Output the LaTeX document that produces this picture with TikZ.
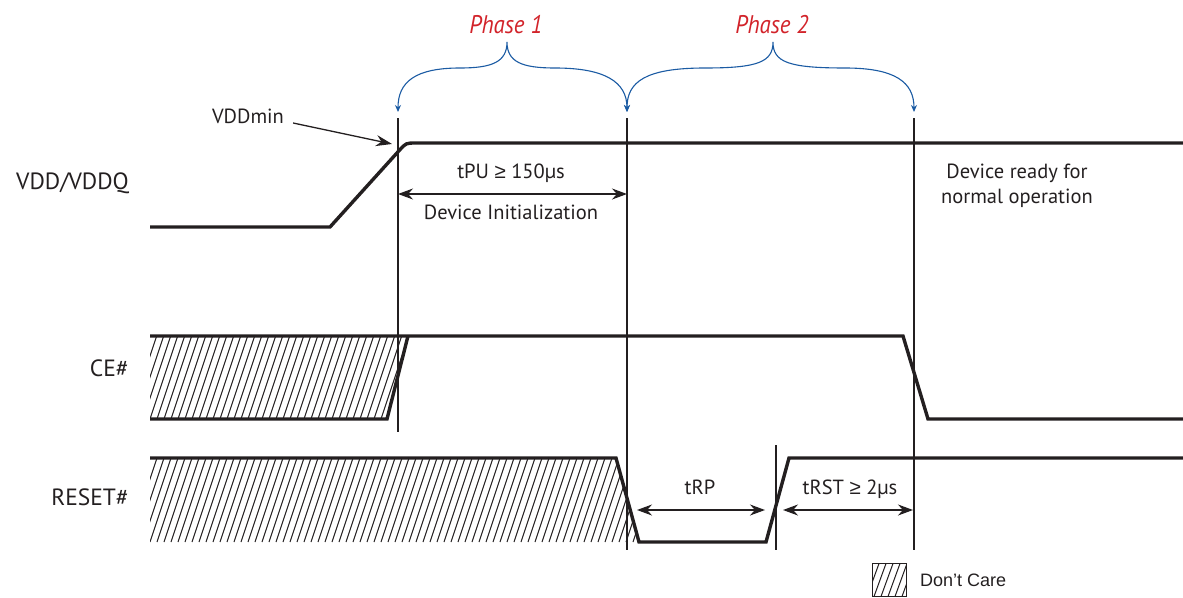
\documentclass[tikz,border=0pt]{standalone}
\usepackage{fontspec}
\setmainfont{PT Sans}
\newfontfamily\arialf{Liberation Sans}
\newfontfamily\symf{Liberation Sans}
\newfontfamily\phasef[FakeStretch=0.9]{PT Sans}
\usetikzlibrary{arrows.meta}
\definecolor{sigblack}{HTML}{231F20}
\definecolor{phasered}{HTML}{D2232A}
\definecolor{braceblue}{HTML}{1B5BA3}
\newcommand{\geqsym}{{\symf ≥}}
\begin{document}
\begin{tikzpicture}[x=1pt,y=-1pt,
  sig/.style={line width=3.4pt, draw=sigblack, line join=miter},
  vline/.style={line width=1.4pt, draw=sigblack},
  hatchline/.style={line width=1pt, draw=sigblack},
  dimarrow/.style={line width=1.3pt, draw=sigblack, {Stealth[length=15pt,width=11pt]}-{Stealth[length=15pt,width=11pt]}},
  bracearrow/.style={line width=1.1pt, draw=braceblue, {Stealth[length=7pt,width=6pt]}-{Stealth[length=7pt,width=6pt]}},
  lbl/.style={font=\fontsize{23.5}{27}\selectfont, text=sigblack, inner sep=0pt},
  ann/.style={font=\fontsize{20.5}{24}\selectfont, text=sigblack, inner sep=0pt},
  phase/.style={font=\phasef\itshape\fontsize{25.5}{30}\selectfont, text=phasered, inner sep=0pt}]

\useasboundingbox (0,0) rectangle (1183,597);

% signal labels
\node[lbl, anchor=base east] (lvdd) at (129,189) {VDD/VDDQ};
\node[lbl, anchor=base east] (lce) at (129,376) {CE\#};
\node[lbl, anchor=base east] (lrst) at (129,505) {RESET\#};

% phase labels
\node[phase, anchor=base] (ph1) at (506,33) {Phase 1};
\node[phase, anchor=base] (ph2) at (772,33) {Phase 2};

% vertical timing lines
\coordinate (v1t) at (398,118); \coordinate (v1b) at (398,432);
\coordinate (v2t) at (627,118); \coordinate (v2b) at (627,550);
\coordinate (v3t) at (914,118); \coordinate (v3b) at (914,550);
\coordinate (v4t) at (776,445); \coordinate (v4b) at (776,550);
\draw[vline] (v1t) -- (v1b);
\draw[vline] (v2t) -- (v2b);
\draw[vline] (v3t) -- (v3b);
\draw[vline] (v4t) -- (v4b);

% braces
\draw[bracearrow] (398,112) .. controls (398,82) and (415,68) .. (460,68)
  .. controls (492,68) and (507,62) .. (507,42)
  .. controls (507,62) and (522,68) .. (555,68)
  .. controls (605,68) and (627,82) .. (627,112);
\draw[bracearrow] (627,112) .. controls (627,82) and (645,68) .. (705,68)
  .. controls (758,68) and (773,62) .. (773,42)
  .. controls (773,62) and (788,68) .. (845,68)
  .. controls (895,68) and (914,82) .. (914,112);

% hatching
\begin{scope}
  \clip (150,336) -- (408,336) -- (387,419) -- (150,419) -- cycle;
  \foreach \x in {115,122,...,420} \draw[hatchline] (\x,419) -- ++(28,-84);
\end{scope}
\begin{scope}
  \clip (150,458) -- (616,458) -- (639,542) -- (150,542) -- cycle;
  \foreach \x in {115,122,...,645} \draw[hatchline] (\x,542) -- ++(28,-84);
\end{scope}

% VDD waveform
\draw[sig] (150,227) -- (330,227) -- (399.3,150.4) .. controls (406,143) .. (416,143) -- (1183,143);
% CE# waveform
\draw[sig] (150,336) -- (903,336) -- (928,419) -- (1183,419);
\draw[sig] (150,419) -- (387,419) -- (408,336);
% RESET# waveform
\draw[sig] (150,458) -- (616,458) -- (639,542) -- (766,542) -- (789,458) -- (1183,458);

% VDDmin
\node[ann, anchor=base] (vddmin) at (248,123) {VDDmin};
\coordinate (vddminTip) at (392,144);
\draw[line width=1.3pt, draw=sigblack, -{Stealth[length=16pt,width=11pt]}] ([xshift=9pt]vddmin.base east) -- (vddminTip);

% tPU
\node[ann, anchor=base] (tpu) at (511,178) {tPU \geqsym{} 150µs};
\node[ann, anchor=base] (devinit) at (511,219) {Device Initialization};
\coordinate (tpuL) at (398,194); \coordinate (tpuR) at (627,194);
\draw[dimarrow] (tpuL) -- (tpuR);

% tRP / tRST
\node[ann, anchor=base] (trp) at (700,494) {tRP};
\node[ann, anchor=base] (trst) at (850,494) {tRST \geqsym{} 2µs};
\coordinate (trpL) at (637,510); \coordinate (trpR) at (765,510);
\coordinate (trstL) at (783,510); \coordinate (trstR) at (913,510);
\draw[dimarrow] (trpL) -- (trpR);
\draw[dimarrow] (trstL) -- (trstR);

% device ready
\node[ann, anchor=base] (ready1) at (1017,178) {Device ready for};
\node[ann, anchor=base] (ready2) at (1017,203) {normal operation};

% legend
\begin{scope}
  \clip (872,563.5) rectangle (906,596.5);
  \foreach \x in {860,867,...,910} \draw[hatchline] (\x,596.5) -- ++(12,-33);
\end{scope}
\draw[line width=0.9pt, draw=sigblack] (872,563.5) rectangle (906,596.5);
\node[inner sep=0pt, anchor=base west, font=\arialf\fontsize{18}{21}\selectfont, text=sigblack] (dontcare) at (920,586) {Don’t Care};
\end{tikzpicture}
\end{document}
